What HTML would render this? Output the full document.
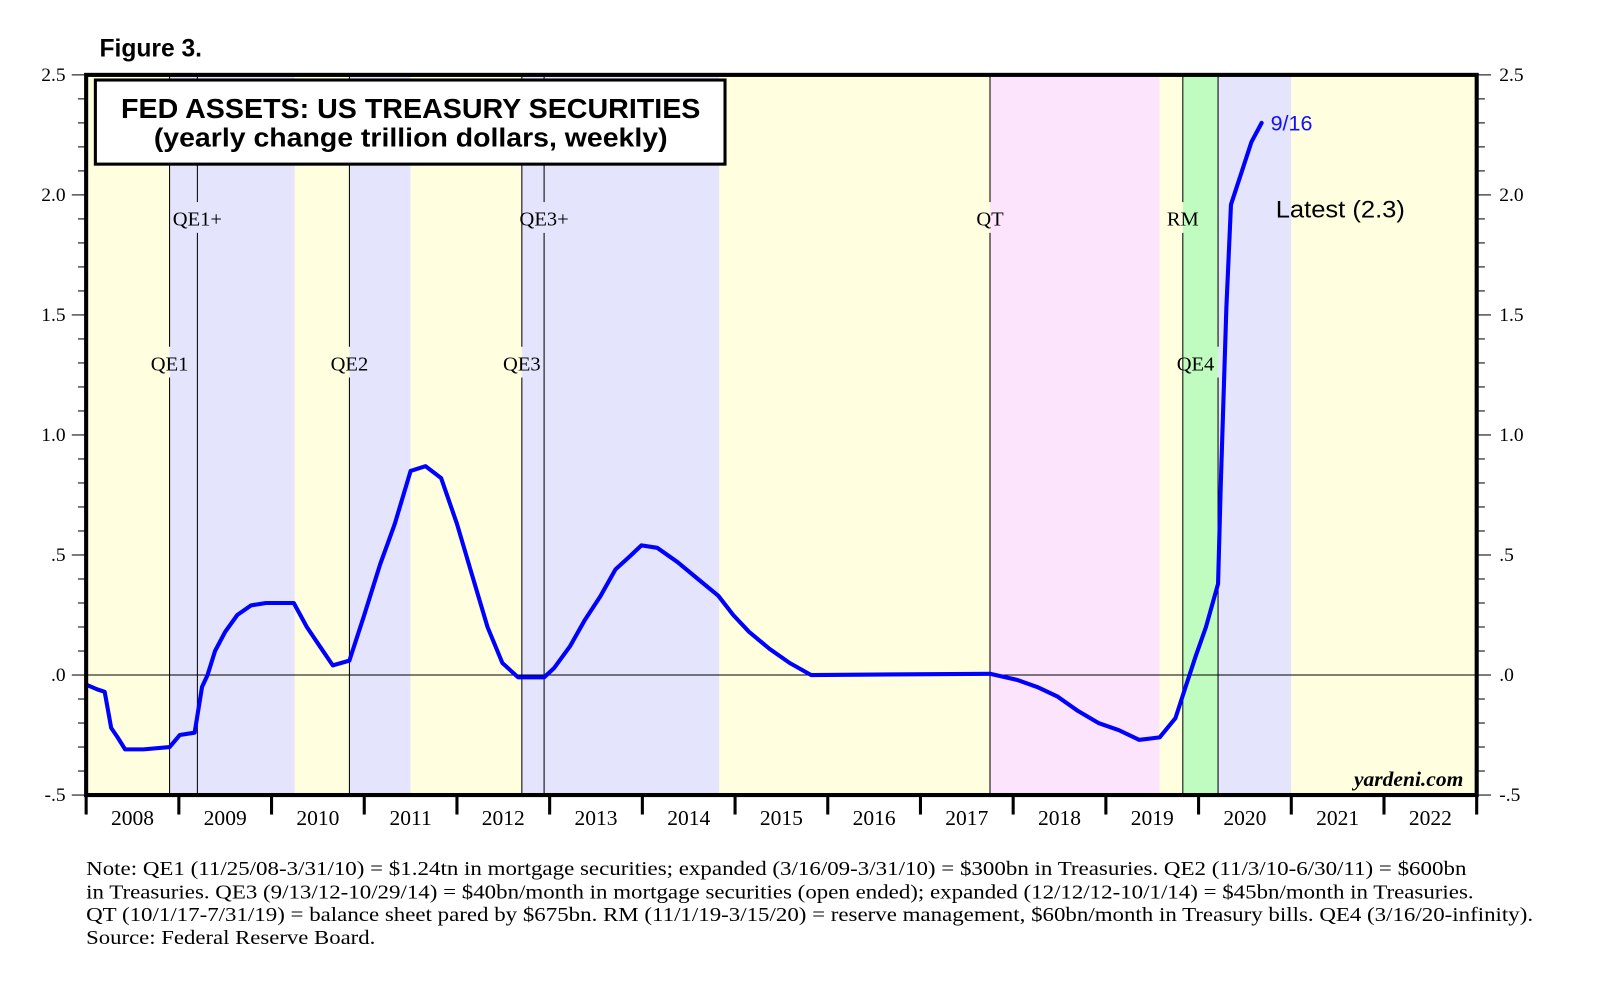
<!DOCTYPE html>
<html><head><meta charset="utf-8"><style>
html,body{margin:0;padding:0;background:#fff;}
svg{display:block;}
.serif{font-family:"Liberation Serif",serif;}
.sans{font-family:"Liberation Sans",sans-serif;}
</style></head><body>
<svg id="chart" width="1610" height="992" viewBox="0 0 1570 967" preserveAspectRatio="none" xmlns="http://www.w3.org/2000/svg">
<text class="sans" x="97" y="55" font-size="24" font-weight="bold">Figure 3.</text>
<g id="bands"></g>
<g id="vlines"></g>
<g id="series"></g>
<g id="axes"></g>
<rect x="93" y="78" width="614" height="82" fill="#fff" stroke="#000" stroke-width="3"/>
<text class="sans" x="118" y="115" font-size="27" font-weight="bold" textLength="565" lengthAdjust="spacingAndGlyphs">FED ASSETS: US TREASURY SECURITIES</text>
<text class="sans" x="150" y="143" font-size="25" font-weight="bold" textLength="501" lengthAdjust="spacingAndGlyphs">(yearly change trillion dollars, weekly)</text>
<text class="sans" x="1239" y="127" font-size="21" fill="#1010ff">9/16</text>
<text class="sans" x="1244" y="212" font-size="23" textLength="126" lengthAdjust="spacingAndGlyphs">Latest (2.3)</text>
<text class="serif" x="1427" y="766" font-size="21" font-style="italic" font-weight="bold" text-anchor="end">yardeni.com</text>
<g class="serif" font-size="20">
<text x="84" y="853" textLength="1346" lengthAdjust="spacingAndGlyphs">Note: QE1 (11/25/08-3/31/10) = $1.24tn in mortgage securities; expanded (3/16/09-3/31/10) = $300bn in Treasuries. QE2 (11/3/10-6/30/11) = $600bn</text>
<text x="84" y="876" textLength="1353" lengthAdjust="spacingAndGlyphs">in Treasuries. QE3 (9/13/12-10/29/14) = $40bn/month in mortgage securities (open ended); expanded (12/12/12-10/1/14) = $45bn/month in Treasuries.</text>
<text x="84" y="898" textLength="1411" lengthAdjust="spacingAndGlyphs">QT (10/1/17-7/31/19) = balance sheet pared by $675bn. RM (11/1/19-3/15/20) = reserve management, $60bn/month in Treasury bills. QE4 (3/16/20-infinity).</text>
<text x="84" y="920" textLength="282" lengthAdjust="spacingAndGlyphs">Source: Federal Reserve Board.</text>
</g>
</svg>
<script>
const years = [2008,2009,2010,2011,2012,2013,2014,2015,2016,2017,2018,2019,2020,2021,2022];
const yTicks = [2.5,2.0,1.5,1.0,0.5,0.0,-0.5];
const yTickLabels = ["2.5","2.0","1.5","1.0",".5",".0","-.5"];
const bandStarts = [2008.9,2010.25,2010.84,2011.5,2012.7,2014.83,2017.75,2019.58,2019.83,2020.21,2021.0];
const bandEnds   = [2010.25,2010.84,2011.5,2012.7,2014.83,2017.75,2019.58,2019.83,2020.21,2021.0,2023.0];
const bandColors = ["#e4e4fc","#ffffe0","#e4e4fc","#ffffe0","#e4e4fc","#ffffe0","#fce4fc","#ffffe0","#c0fcc0","#e4e4fc","#ffffe0"];
const eventNames = ["QE1","QE1+","QE2","QE3","QE3+","QT","RM","QE4"];
const eventDates = [2008.9,2009.2,2010.84,2012.7,2012.94,2017.75,2019.83,2020.21];
const eventRow   = [1,0,1,1,0,0,0,1];
const dates = [2008.0,2008.12,2008.2,2008.27,2008.34,2008.42,2008.62,2008.9,2009.01,2009.17,2009.25,2009.31,2009.39,2009.5,2009.63,2009.78,2009.94,2010.24,2010.38,2010.52,2010.66,2010.84,2011.0,2011.17,2011.33,2011.5,2011.66,2011.83,2012.0,2012.16,2012.33,2012.49,2012.66,2012.94,2013.05,2013.22,2013.38,2013.55,2013.71,2013.88,2013.99,2014.16,2014.38,2014.6,2014.82,2014.98,2015.15,2015.37,2015.59,2015.82,2017.75,2018.04,2018.26,2018.48,2018.7,2018.92,2019.14,2019.36,2019.58,2019.75,2019.86,2019.97,2020.08,2020.21,2020.24,2020.3,2020.35,2020.46,2020.57,2020.68];
const values = [-0.04,-0.06,-0.07,-0.22,-0.26,-0.31,-0.31,-0.30,-0.25,-0.24,-0.05,0.0,0.10,0.18,0.25,0.29,0.30,0.30,0.20,0.12,0.04,0.06,0.25,0.46,0.63,0.85,0.87,0.82,0.63,0.42,0.20,0.05,-0.01,-0.01,0.03,0.12,0.23,0.33,0.44,0.50,0.54,0.53,0.47,0.40,0.33,0.25,0.18,0.11,0.05,0.0,0.005,-0.02,-0.05,-0.09,-0.15,-0.20,-0.23,-0.27,-0.26,-0.18,-0.05,0.08,0.20,0.38,0.80,1.53,1.96,2.09,2.22,2.30];

const L=84,R=1440,T=73,B=775;
const x=t=>L+(t-2008)*(R-L)/15;
const y=v=>T+(2.5-v)*(B-T)/3;
const NS="http://www.w3.org/2000/svg";
function mk(tag,attrs,parent){const e=document.createElementNS(NS,tag);for(const k in attrs)e.setAttribute(k,attrs[k]);parent.appendChild(e);return e;}
const gB=document.getElementById('bands'),gV=document.getElementById('vlines'),gS=document.getElementById('series'),gA=document.getElementById('axes');
mk('rect',{x:L,y:T,width:R-L,height:B-T,fill:'#ffffe0'},gB);
bandStarts.forEach((s,i)=>{
  const r=mk('rect',{x:x(s),y:T,width:Math.min(x(bandEnds[i]),R)-x(s),height:B-T,fill:bandColors[i]},gB);
  
  
});
const zl=mk('line',{x1:L,x2:R,y1:y(0),y2:y(0),stroke:'#000','stroke-width':1},gV);


eventDates.forEach((d,i)=>{
  const ty=eventRow[i]?354:213;
  const ln1=mk('line',{x1:x(d),x2:x(d),y1:T,y2:ty-16,stroke:'#000','stroke-width':1},gV);
  
  
  const ln2=mk('line',{x1:x(d),x2:x(d),y1:ty+14,y2:B,stroke:'#000','stroke-width':1},gV);
  
  
  const cx = eventNames[i]==="QE4" ? x(d)-22 : x(d);
  const tx=mk('text',{x:cx,y:ty+7,'font-size':20,'text-anchor':'middle','class':'serif'},gV);
  tx.textContent=eventNames[i];
  
  
});
let dstr=dates.map((d,i)=>(i?'L':'M')+x(d).toFixed(1)+','+y(values[i]).toFixed(1)).join(' ');
const p=mk('path',{d:dstr,fill:'none',stroke:'#0000ff','stroke-width':4,'stroke-linejoin':'round','stroke-linecap':'round'},gS);


const fr=mk('rect',{x:L,y:T,width:R-L,height:B-T,fill:'none',stroke:'#000','stroke-width':4},gA);


for(let k=0;k<=30;k++){
  const v=2.5-k*0.1, yy=y(v), major=k%5===0;
  mk('line',{x1:L-(major?14:8),x2:L,y1:yy,y2:yy,stroke:'#000','stroke-width':1},gA);
  mk('line',{x1:R,x2:R+(major?14:8),y1:yy,y2:yy,stroke:'#000','stroke-width':1},gA);
}
yTicks.forEach((v,i)=>{
  const a=mk('text',{x:L-20,y:y(v)+6,'font-size':19,'text-anchor':'end','class':'serif'},gA);
  a.textContent=yTickLabels[i];
  
  
  const b=mk('text',{x:R+22,y:y(v)+6,'font-size':19,'class':'serif'},gA);
  b.textContent=yTickLabels[i];
  
  
});
for(let k=0;k<=15;k++){
  mk('line',{x1:x(2008+k),x2:x(2008+k),y1:B,y2:B+19,stroke:'#000','stroke-width':3},gA);
}
years.forEach(yr=>{
  const t=mk('text',{x:x(yr+0.5),y:B+29,'font-size':21,'text-anchor':'middle','class':'serif'},gA);
  t.textContent=String(yr);
  
  
});
</script>
</body></html>
